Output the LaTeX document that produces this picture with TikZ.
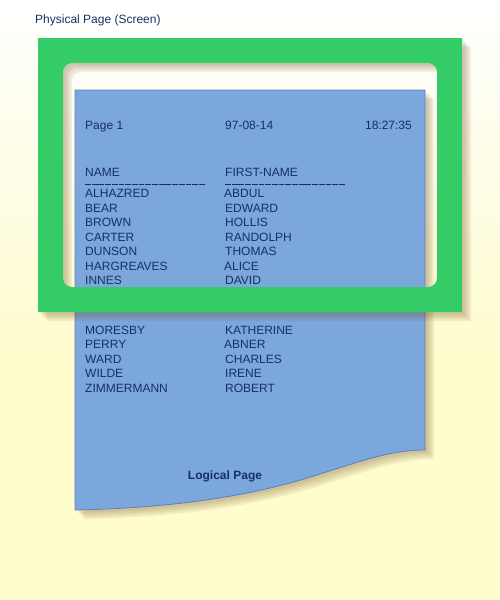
\documentclass[tikz,border=0pt]{standalone}
\usepackage{fontspec}
\setmainfont{Liberation Sans}[Ligatures=TeXOff]
\definecolor{bgyellow}{RGB}{255,252,206}
\definecolor{framegreen}{RGB}{51,204,102}
\definecolor{pageblue}{RGB}{123,167,220}
\definecolor{pageedge}{RGB}{88,128,190}
\definecolor{inkblue}{RGB}{22,48,100}
\definecolor{shadowtan}{RGB}{110,80,30}
\tikzset{
  pagepath/.style={insert path={(75,90) -- (425,90) -- (425,450) .. controls (395,450) and (370,458) .. (320,474) .. controls (260,494) and (180,508) .. (75,510) -- cycle}},
  framepath/.style={insert path={(38,38) rectangle (462,312) [rounded corners=9pt] (63,63) rectangle (437,287)}},
  shadowfill/.style={fill=shadowtan, fill opacity=0.09, even odd rule},
  listtext/.style={anchor=base west, inner sep=0pt, text=inkblue, font=\fontsize{12}{14}\selectfont},
  dashrule/.style={draw=inkblue, line width=1pt, dash pattern=on 5.8pt off 0.9pt},
}
\begin{document}
\begin{tikzpicture}[x=1pt,y=-1pt]
    \useasboundingbox (0,0) rectangle (500,600);
    \fill[bgyellow] (0,0) rectangle (500,600);
    \shade[top color=white, bottom color=bgyellow] (0,0) rectangle (500,360);

    \fill[shadowfill, shift={(3,3)}, pagepath];
    \fill[shadowfill, shift={(5,5)}, pagepath];
    \fill[shadowfill, shift={(7,7)}, pagepath];
    \fill[shadowfill, shift={(9,9)}, pagepath];
    \draw[pageedge, fill=pageblue, line width=0.8pt, pagepath];

    \node[listtext] (pagenum) at (85,129.3) {Page 1};
    \node[listtext] (pagedate) at (225,129.3) {97-08-14};
    \node[listtext, anchor=base east] (pagetime) at (412,129.3) {18:27:35};

    \node[listtext] (hname) at (85,176.3) {NAME};
    \node[listtext] (hfirst) at (225,176.3) {FIRST-NAME};
    \draw[dashrule] (85,184.5) -- (205,184.5);
    \draw[dashrule] (225,184.5) -- (345,184.5);

    \node[listtext] (l1) at (85,197.5) {ALHAZRED};
    \node[listtext] (l2) at (85,212) {BEAR};
    \node[listtext] (l3) at (85,226.5) {BROWN};
    \node[listtext] (l4) at (85,241) {CARTER};
    \node[listtext] (l5) at (85,255) {DUNSON};
    \node[listtext] (l6) at (85,270) {HARGREAVES};
    \node[listtext] (l7) at (85,284.5) {INNES};
    \node[listtext] (l8) at (85,334) {MORESBY};
    \node[listtext] (l9) at (85,348.5) {PERRY};
    \node[listtext] (l10) at (85,363) {WARD};
    \node[listtext] (l11) at (85,377.5) {WILDE};
    \node[listtext] (l12) at (85,392) {ZIMMERMANN};

    \node[listtext] (r1) at (224,197.5) {ABDUL};
    \node[listtext] (r2) at (225,212) {EDWARD};
    \node[listtext] (r3) at (225,226.5) {HOLLIS};
    \node[listtext] (r4) at (225,241) {RANDOLPH};
    \node[listtext] (r5) at (225,255) {THOMAS};
    \node[listtext] (r6) at (224,270) {ALICE};
    \node[listtext] (r7) at (225,284.5) {DAVID};
    \node[listtext] (r8) at (225,334) {KATHERINE};
    \node[listtext] (r9) at (224,348.5) {ABNER};
    \node[listtext] (r10) at (225,363) {CHARLES};
    \node[listtext] (r11) at (225,377.5) {IRENE};
    \node[listtext] (r12) at (225,392) {ROBERT};

    \node[listtext, anchor=base, font=\fontsize{12}{14}\selectfont\bfseries] (logical) at (225,479.3) {Logical Page};

    \fill[shadowfill, shift={(3,3)}, framepath];
    \fill[shadowfill, shift={(5,5)}, framepath];
    \fill[shadowfill, shift={(7,7)}, framepath];
    \fill[shadowfill, shift={(9,9)}, framepath];
    \fill[framegreen, even odd rule, framepath];

    \node[listtext] (physical) at (35,23.3) {Physical Page (Screen)};
\end{tikzpicture}
\end{document}
